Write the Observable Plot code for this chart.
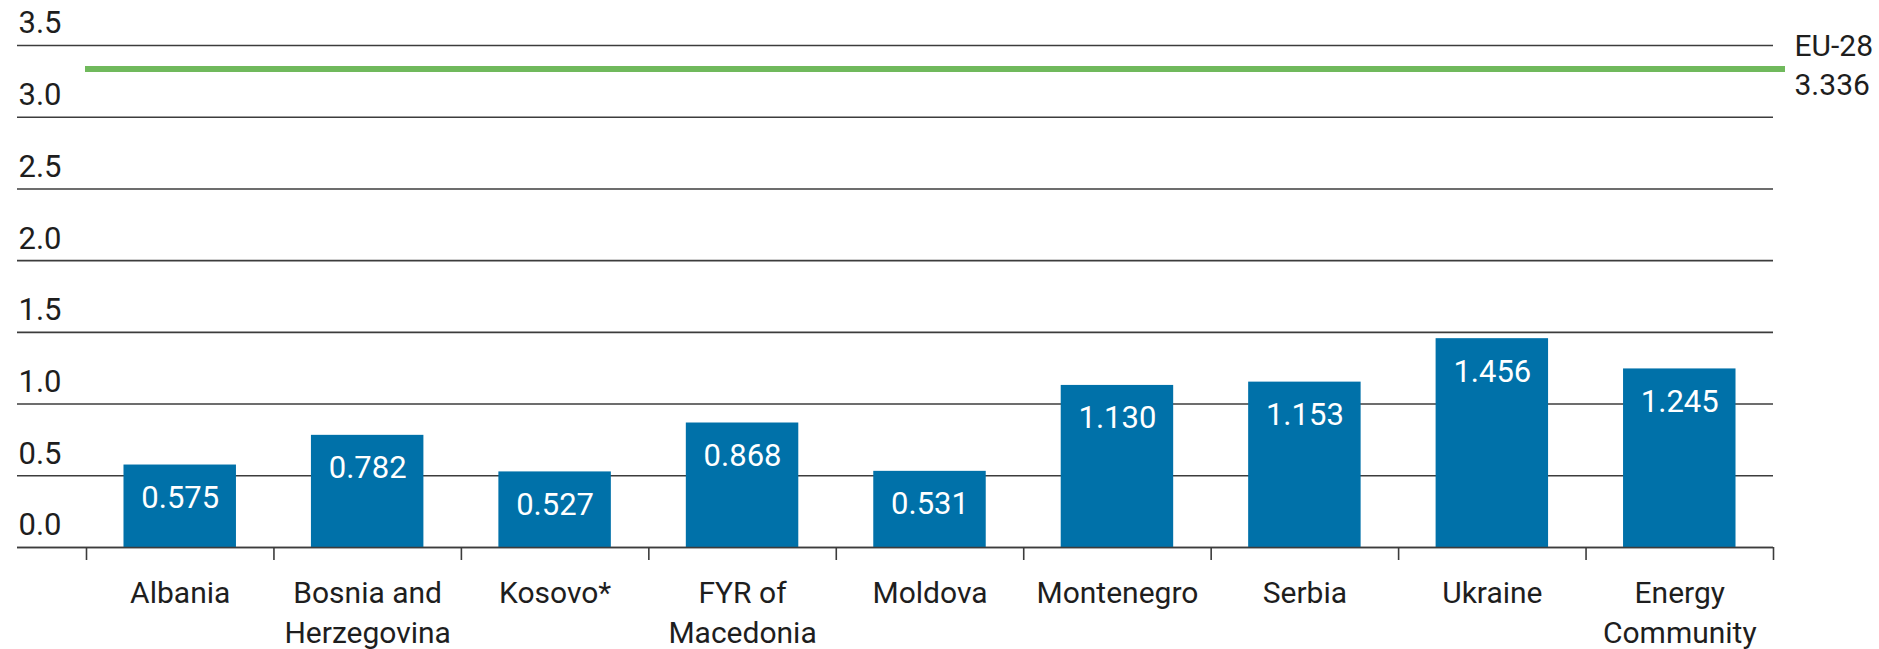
<!DOCTYPE html>
<html>
<head>
<meta charset="utf-8">
<script src="https://cdn.jsdelivr.net/npm/d3@7"></script>
<script src="https://cdn.jsdelivr.net/npm/@observablehq/plot@0.6"></script>
<style>
  html, body { margin: 0; padding: 0; background: #fff; }
  #chart svg { display: block; }
</style>
</head>
<body>
<div id="chart"></div>
<script>
const categories = ["Albania", "Bosnia and\nHerzegovina", "Kosovo*", "FYR of\nMacedonia", "Moldova", "Montenegro", "Serbia", "Ukraine", "Energy\nCommunity"];
const values = [0.575, 0.782, 0.527, 0.868, 0.531, 1.130, 1.153, 1.456, 1.245];
const valueLabels = ["0.575", "0.782", "0.527", "0.868", "0.531", "1.130", "1.153", "1.456", "1.245"];
const euLabel = "EU-28";
const euValue = 3.336;
const euValueLabel = "3.336";
const yTicks = [0, 0.5, 1.0, 1.5, 2.0, 2.5, 3.0, 3.5];
const yTickLabels = ["0.0", "0.5", "1.0", "1.5", "2.0", "2.5", "3.0", "3.5"];

const rows = categories.map((c, i) => ({name: c, value: values[i], label: valueLabels[i], i}));
const boundaries = d3.range(categories.length + 1);

const W = 1879, H = 649;
const font = "Roboto, 'Noto Sans', sans-serif";
const ink = "#1e1e1e";
const grid = "#3c3c3c";

const chart = Plot.plot({
  width: W,
  height: H,
  marginTop: 45,
  marginBottom: 102,
  marginLeft: 17,
  marginRight: 106,
  style: {fontFamily: font, background: "#fff", overflow: "visible"},
  x: {type: "linear", domain: [0, categories.length], range: [86, 1773]},
  y: {type: "linear", domain: [0, 3.5], axis: null},
  marks: [
    Plot.ruleY(yTicks, {y: d => d, stroke: grid, strokeWidth: 1.6}),
    Plot.rectY(rows, {x1: d => d.i + 0.2, x2: d => d.i + 0.8, y1: 0, y2: "value", fill: "#0071a9"}),
    Plot.ruleY([0], {stroke: grid, strokeWidth: 1.6}),
    Plot.axisX({ticks: boundaries, tickFormat: () => "", tickSize: 13, stroke: grid, strokeWidth: 1.6, strokeOpacity: 1}),
    Plot.ruleY([euValue], {y: d => d, stroke: "#70b95c", strokeWidth: 6, insetLeft: 68, insetRight: -12}),
    Plot.text(rows, {x: d => d.i + 0.5, y: "value", text: "label", fill: "#fff", fontSize: 31, dy: 33, fontFamily: font}),
    Plot.text(rows, {x: d => d.i + 0.5, y: 0, text: "name", fill: ink, fontSize: 30, lineAnchor: "top", dy: 27, lineHeight: 1.33, fontFamily: font}),
    Plot.text(yTicks, {y: d => d, text: (d, i) => yTickLabels[i], frameAnchor: "left", textAnchor: "start", dx: 1, dy: -22, fill: ink, fontSize: 31, fontFamily: font}),
    Plot.text([euValue], {y: d => d, text: () => euLabel + "\n" + euValueLabel, frameAnchor: "right", textAnchor: "start", dx: 21, dy: -6, lineHeight: 1.3, fill: ink, fontSize: 30, fontFamily: font})
  ]
});
document.getElementById("chart").appendChild(chart);
</script>
</body>
</html>
